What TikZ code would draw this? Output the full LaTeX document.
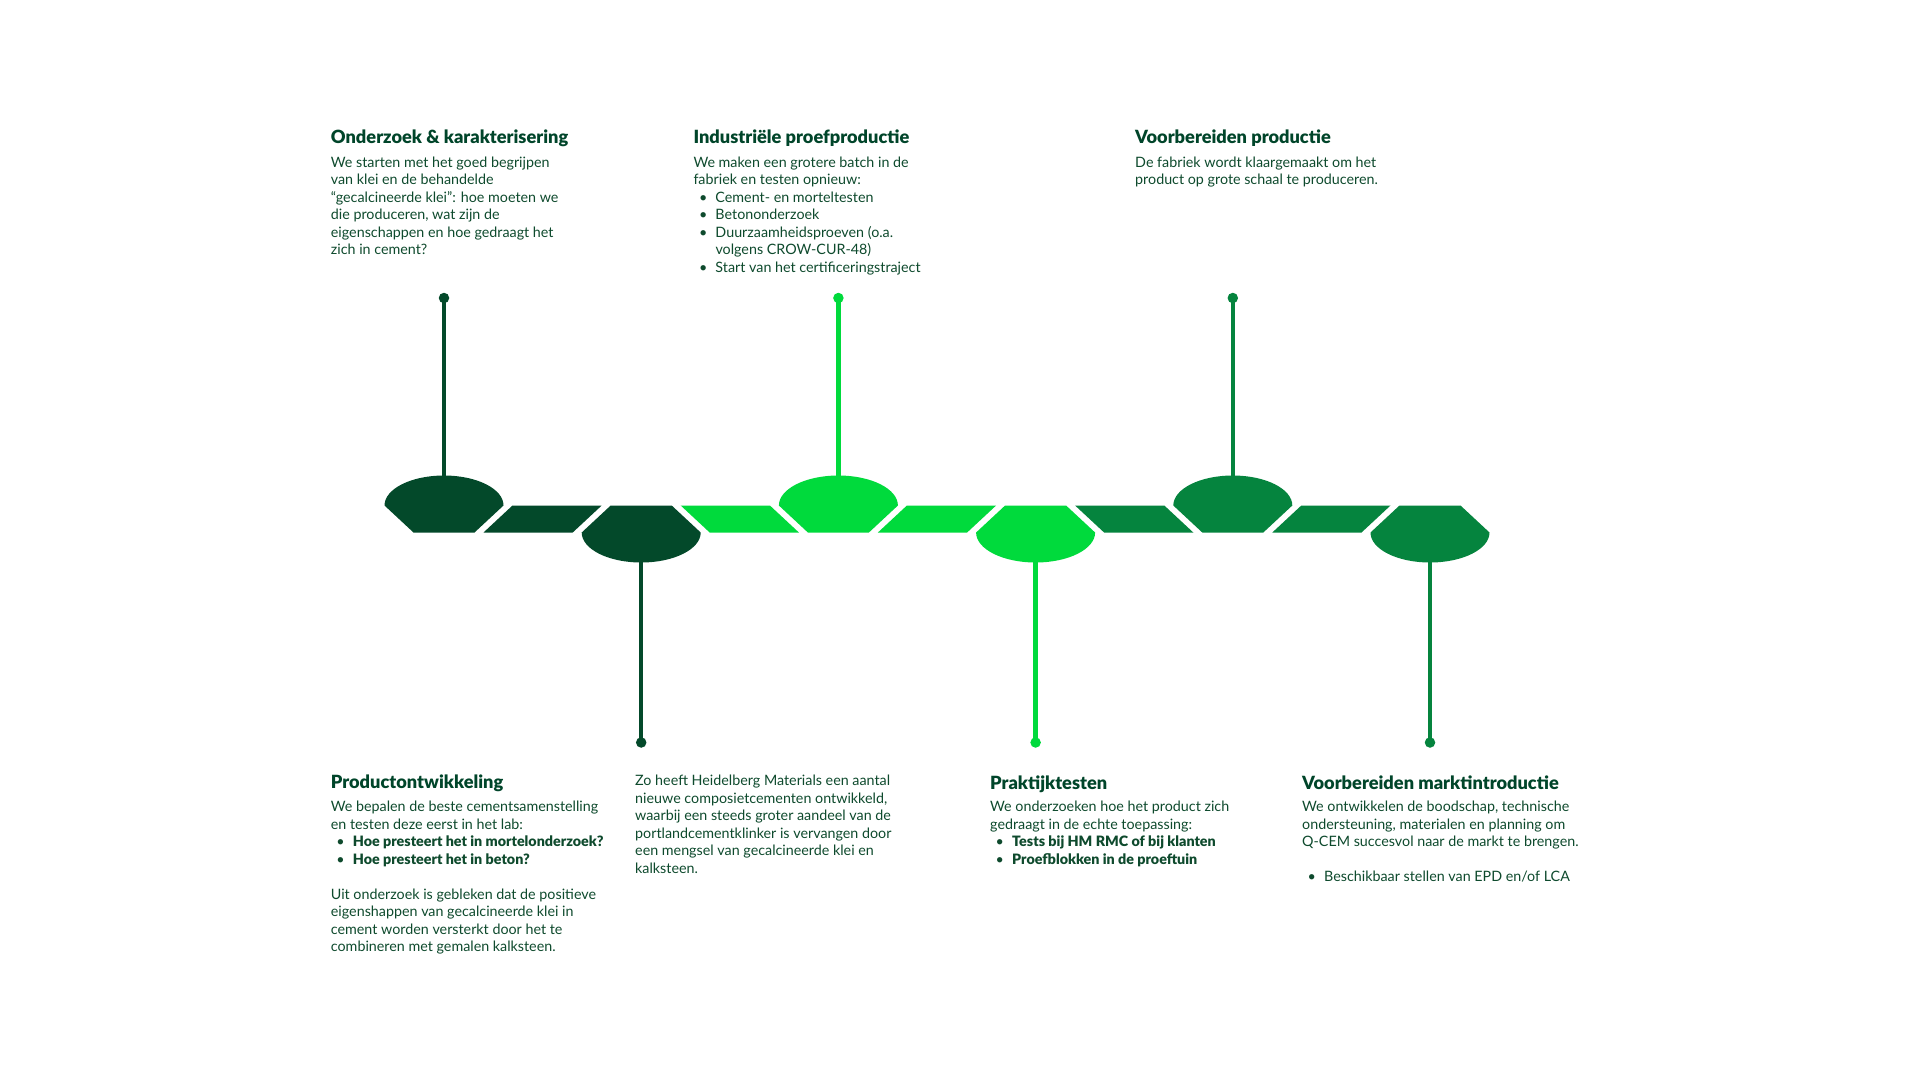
\documentclass[tikz,border=0pt]{standalone}
\usepackage{fontspec}
\setmainfont{Lato}
\IfFontExistsTF{Lato Black}{\newfontfamily\heavy{Lato Black}\newcommand\ttlsize{18.2}}{\newcommand\heavy{\bfseries}\newcommand\ttlsize{18.8}}
\definecolor{gdark}{HTML}{03492A}
\definecolor{gbright}{HTML}{00DA3C}
\definecolor{gmid}{HTML}{05843E}
\definecolor{ttl}{HTML}{00452A}
\definecolor{bodytxt}{HTML}{0E4A2D}
\newcommand\bul{\makebox[22pt][l]{\hspace{5.5pt}\textbullet}}
\newcommand\ind{\hspace*{22pt}}
\newcommand\fl{\rule{0pt}{11.5pt}}
\newcommand\hb[1]{{\heavy #1}}
% up shape: #1 centre x, #2 colour
\newcommand\tlup[2]{%
  \fill[#2] (#1-59.5,505.5) .. controls (#1-59.5,488.9) and (#1-32.9,475.5) .. (#1,475.5)
    .. controls (#1+32.9,475.5) and (#1+59.5,488.9) .. (#1+59.5,505.5)
    -- (#1+30.5,532.5) -- (#1-30.5,532.5) -- cycle;}
\newcommand\tldown[2]{%
  \fill[#2] (#1-30.5,505.5) -- (#1+30.5,505.5) -- (#1+59.5,532.5)
    .. controls (#1+59.5,549.1) and (#1+32.9,562.5) .. (#1,562.5)
    .. controls (#1-32.9,562.5) and (#1-59.5,549.1) .. (#1-59.5,532.5) -- cycle;}
% bar: top-left, top-right, bottom-right, bottom-left x, colour
\newcommand\tlbar[5]{\fill[#5] (#1,505.5) -- (#2,505.5) -- (#3,532.5) -- (#4,532.5) -- cycle;}
\begin{document}
\begin{tikzpicture}[x=1pt,y=-1pt,
  ttlstyle/.style={anchor=base west, inner sep=0pt, font=\fontsize{\ttlsize}{20}\selectfont\heavy, text=ttl},
  bodystyle/.style={anchor=north west, inner sep=0pt, align=left, font=\fontsize{14.3}{17.5}\selectfont, text=bodytxt},
  dotstyle/.style={circle, inner sep=0pt, minimum size=10.5pt},
  stemstyle/.style={line width=4.5pt}]
\useasboundingbox (0,0) rectangle (1920,1080);
\fill[white] (0,0) rectangle (1920,1080);

% timeline shapes
\tlup{444}{gdark}
\tlbar{512.5}{601.7}{572.7}{483.5}{gdark}
\tldown{641.2}{gdark}
\tlbar{680.7}{769.9}{798.9}{709.7}{gbright}
\tlup{838.4}{gbright}
\tlbar{906.9}{996.1}{967.1}{877.9}{gbright}
\tldown{1035.6}{gbright}
\tlbar{1075.1}{1164.3}{1193.3}{1104.1}{gmid}
\tlup{1232.8}{gmid}
\tlbar{1301.3}{1390.5}{1361.5}{1272.3}{gmid}
\tldown{1430}{gmid}

% shape attachment points
\coordinate (s1) at (444,477);
\coordinate (s2) at (641.2,561);
\coordinate (s3) at (838.4,477);
\coordinate (s4) at (1035.6,561);
\coordinate (s5) at (1232.8,477);
\coordinate (s6) at (1430,561);

% dots
\node[dotstyle, fill=gdark] (d1) at (444,298) {};
\node[dotstyle, fill=gdark] (d2) at (641.2,742.5) {};
\node[dotstyle, fill=gbright] (d3) at (838.4,298) {};
\node[dotstyle, fill=gbright] (d4) at (1035.6,742.5) {};
\node[dotstyle, fill=gmid] (d5) at (1232.8,298) {};
\node[dotstyle, fill=gmid] (d6) at (1430,742.5) {};

% stems
\draw[stemstyle, gdark] (d1.center) -- (s1);
\draw[stemstyle, gdark] (d2.center) -- (s2);
\draw[stemstyle, gbright] (d3.center) -- (s3);
\draw[stemstyle, gbright] (d4.center) -- (s4);
\draw[stemstyle, gmid] (d5.center) -- (s5);
\draw[stemstyle, gmid] (d6.center) -- (s6);

% top texts
\node[ttlstyle] (t1) at (330.7,143.5) {Onderzoek \& karakterisering};
\node[bodystyle] (b1) at (330.7,155.5) {\fl We starten met het goed begrijpen\\
van klei en de behandelde\\
“gecalcineerde klei”: hoe moeten we\\
die produceren, wat zijn de\\
eigenschappen en hoe gedraagt het\\
zich in cement?};

\node[ttlstyle] (t3) at (693.3,143.5) {Industriële proefproductie};
\node[bodystyle] (b3) at (693.3,155.5) {\fl We maken een grotere batch in de\\
fabriek en testen opnieuw:\\
\bul Cement- en morteltesten\\
\bul Betononderzoek\\
\bul Duurzaamheidsproeven (o.a.\\
\ind volgens CROW-CUR-48)\\
\bul Start van het certificeringstraject};

\node[ttlstyle] (t5) at (1135,143.5) {Voorbereiden productie};
\node[bodystyle] (b5) at (1135,155.5) {\fl De fabriek wordt klaargemaakt om het\\
product op grote schaal te produceren.};

% bottom texts
\node[ttlstyle] (t2) at (330.7,788.5) {Productontwikkeling};
\node[bodystyle] (b2) at (330.7,800.2) {\fl We bepalen de beste cementsamenstelling\\
en testen deze eerst in het lab:\\
\bul\hb{Hoe presteert het in mortelonderzoek?}\\
\bul\hb{Hoe presteert het in beton?}\\
\mbox{}\\
Uit onderzoek is gebleken dat de positieve\\
eigenshappen van gecalcineerde klei in\\
cement worden versterkt door het te\\
combineren met gemalen kalksteen.};

\node[bodystyle] (b2b) at (635,774.2) {\fl Zo heeft Heidelberg Materials een aantal\\
nieuwe composietcementen ontwikkeld,\\
waarbij een steeds groter aandeel van de\\
portlandcementklinker is vervangen door\\
een mengsel van gecalcineerde klei en\\
kalksteen.};

\node[ttlstyle] (t4) at (990,789.5) {Praktijktesten};
\node[bodystyle] (b4) at (990,800.2) {\fl We onderzoeken hoe het product zich\\
gedraagt in de echte toepassing:\\
\bul\hb{Tests bij HM RMC of bij klanten}\\
\bul\hb{Proefblokken in de proeftuin}};

\node[ttlstyle] (t6) at (1302,789) {Voorbereiden marktintroductie};
\node[bodystyle] (b6) at (1302,800.2) {\fl We ontwikkelen de boodschap, technische\\
ondersteuning, materialen en planning om\\
Q-CEM succesvol naar de markt te brengen.\\
\mbox{}\\
\bul Beschikbaar stellen van EPD en/of LCA};
\end{tikzpicture}
\end{document}
